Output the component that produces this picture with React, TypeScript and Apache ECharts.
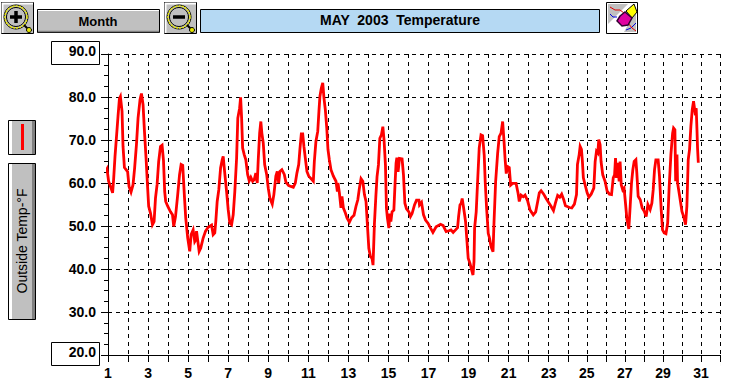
import React, { useEffect, useRef } from "react";
import * as echarts from "echarts";

const title = "MAY  2003  Temperature";
const rangeButton = "Month";
const seriesLabel = "Outside Temp-°F";
const yMin = 20;
const yMax = 90;
const lastDay = 32;
const dayTicks = Array.from({ length: lastDay }, (_, i) => i + 1);

const days = [
  0.9, 0.95, 1.03, 1.15, 1.23, 1.28, 1.35, 1.42, 1.5, 1.57, 1.62, 1.7, 1.75, 1.82, 1.92, 1.98, 2.05, 2.15, 2.25, 2.33, 2.42, 2.5, 2.6, 2.67, 2.75, 2.82, 2.9, 2.97, 3.03, 3.12, 3.22, 3.3, 3.37, 3.45, 3.53, 3.62, 3.7, 3.77, 3.83, 3.88, 3.98, 4.12, 4.22, 4.28, 4.37, 4.48, 4.57, 4.65, 4.73, 4.82, 4.88, 4.98, 5.08, 5.15,
  5.25, 5.33, 5.38, 5.42, 5.55, 5.63, 5.75, 5.87, 6.0, 6.17, 6.25, 6.33, 6.38, 6.45, 6.53, 6.62, 6.7, 6.75, 6.82, 6.92, 7.0, 7.08, 7.17, 7.25, 7.33, 7.42, 7.48, 7.57, 7.62, 7.67, 7.72, 7.8, 7.88, 7.97, 8.05, 8.13, 8.22, 8.3, 8.38, 8.45, 8.5, 8.57, 8.63, 8.68, 8.75, 8.82, 8.92, 9.0, 9.08, 9.2, 9.28, 9.38,
  9.45, 9.52, 9.58, 9.68, 9.8, 9.88, 10.02, 10.13, 10.25, 10.35, 10.43, 10.52, 10.58, 10.65, 10.72, 10.78, 10.85, 10.93, 11.02, 11.1, 11.25, 11.3, 11.38, 11.47, 11.53, 11.58, 11.65, 11.72, 11.78, 11.85, 11.92, 11.98, 12.05, 12.13, 12.25, 12.38, 12.45, 12.48, 12.55, 12.63, 12.68, 12.75, 12.85, 12.93, 13.05, 13.15, 13.28, 13.38, 13.47, 13.55, 13.63, 13.72, 13.8,
  13.88, 13.95, 14.02, 14.1, 14.18, 14.23, 14.3, 14.37, 14.43, 14.5, 14.57, 14.65, 14.72, 14.78, 14.85, 14.9, 14.95, 15.02, 15.07, 15.12, 15.18, 15.27, 15.33, 15.38, 15.42, 15.48, 15.55, 15.68, 15.75, 15.82, 15.9, 16.02, 16.1, 16.18, 16.3, 16.4, 16.52, 16.55, 16.65, 16.75, 16.85, 16.98, 17.1, 17.22, 17.38, 17.6, 17.73, 17.88, 18.02, 18.12,
  18.23, 18.35, 18.45, 18.5, 18.57, 18.63, 18.68, 18.73, 18.78, 18.85, 18.92, 18.98, 19.07, 19.15, 19.22, 19.27, 19.3, 19.38, 19.45, 19.53, 19.62, 19.7, 19.78, 19.83, 19.9, 19.98, 20.05, 20.12, 20.22, 20.27, 20.35, 20.45, 20.53, 20.62, 20.7, 20.77, 20.82, 20.88, 20.95, 21.03, 21.1, 21.2, 21.37, 21.47, 21.53, 21.62, 21.73, 21.82, 21.95, 22.07, 22.23, 22.35, 22.45,
  22.53, 22.62, 22.75, 22.87, 22.98, 23.12, 23.25, 23.35, 23.47, 23.58, 23.68, 23.79, 23.88, 24.09, 24.21, 24.35, 24.46, 24.51, 24.6, 24.65, 24.72, 24.77, 24.82, 24.91, 25.02, 25.11, 25.23, 25.37, 25.44, 25.51, 25.58, 25.63, 25.7, 25.75, 25.84, 25.96, 26.07, 26.19, 26.3, 26.39, 26.46, 26.51, 26.56, 26.63, 26.7, 26.75, 26.81, 26.89,
  26.96, 27.04, 27.11, 27.21, 27.28, 27.35, 27.42, 27.49, 27.58, 27.63, 27.7, 27.81, 27.91, 28.02, 28.12, 28.21, 28.33, 28.42, 28.49, 28.56, 28.63, 28.75, 28.82, 28.91, 28.98, 29.07, 29.16, 29.25, 29.33, 29.42, 29.51, 29.56, 29.63, 29.67, 29.74, 29.77, 29.88, 30.0, 30.09, 30.19, 30.26, 30.33, 30.4, 30.47, 30.54, 30.61, 30.68, 30.75, 30.79, 30.82, 30.86,
];

const temps = [
  62.9, 63.3, 60.4, 58.8, 57.7, 60.8, 66.2, 70.5, 75.5, 79.6, 80.1, 76.7, 68.5, 63.6, 63, 62.6, 59.2, 57.9, 59.6, 63.5, 68.9, 75.1, 79.4, 80.8, 78.2, 72, 65.8, 59.6, 54.6, 53, 50.3, 51, 56.5, 59.6, 65, 68.5, 68.8, 65.2, 58, 55.7, 54.6, 53.3, 52.6, 49.9, 52.2, 57.3, 61.9, 64.3, 64.1, 56.5, 51.9, 47.2, 44.1, 48,
  49.1, 46.4, 46.8, 48.8, 44.1, 44.9, 47.2, 48.8, 49.7, 50.2, 48, 48.4, 51, 55.7, 58.4, 63.5, 65.4, 66.2, 62.7, 58, 53.8, 50.7, 50.3, 52.6, 58, 65.8, 75.1, 77.4, 79.9, 75.1, 68.1, 66.6, 65.4, 62, 60.5, 61.3, 60.4, 60.8, 62.3, 60, 65.4, 71.6, 74.3, 71.6, 69.3, 64.3, 62, 58.8, 56.5, 55.1, 57.3, 61.6,
  62.7, 60, 62.7, 63.1, 62, 60.2, 59.4, 59.2, 59, 60, 62.3, 64.3, 67.8, 71.4, 71.4, 68.5, 65.8, 62.7, 61.6, 61.2, 60.4, 65, 69.7, 72, 76.7, 80.2, 82.1, 83.3, 79.8, 77, 72.8, 67.8, 65.4, 63.1, 61.6, 60.4, 58, 60, 57.7, 54.2, 56.9, 54.2, 53, 51.9, 50.9, 51.9, 52.5, 54.6, 56.1, 58.8, 61, 60.4, 57.3,
  55.7, 50.2, 44.8, 42.9, 42.5, 40.9, 50.6, 56.8, 61.5, 64.2, 70.4, 71.2, 73.1, 70, 64.2, 54.1, 51.8, 49.5, 52.9, 51, 53.3, 53.7, 59.9, 64.6, 65.9, 62.6, 65.7, 65.6, 61.9, 55.3, 54, 53.3, 52.2, 52.9, 54.9, 56, 56, 54.9, 55.5, 52.6, 51.4, 50.6, 49.5, 48.5, 49.8, 50.4, 50.1, 48.7, 48.9, 49.1,
  48.5, 49.1, 49.6, 52.2, 54.9, 55.3, 56.4, 54.9, 53.3, 51, 46.4, 42.5, 41.3, 39.8, 38.6, 41.7, 49.5, 53.3, 60.3, 68.1, 71.2, 71, 66.5, 60.3, 54.1, 48.3, 47.1, 45.2, 44, 51, 60.3, 66.9, 70.8, 71.6, 74.3, 69.6, 65.7, 62.2, 63.8, 63.6, 59.5, 59.9, 59.9, 57.6, 55.7, 57.2, 56.8, 57.2, 55.8, 53.7, 52.6, 53.3, 55.7,
  57.7, 58.2, 57.4, 56.4, 55.6, 54.6, 53.6, 55.3, 57.1, 56.7, 57.4, 56.1, 54.7, 54.3, 54.2, 55.1, 57.3, 64.3, 66.6, 68.5, 67.8, 65, 61.2, 59.6, 57.7, 56.7, 57.4, 58.8, 65, 67.4, 67, 70.1, 68.9, 65, 61.9, 60.4, 58.1, 57.4, 57.3, 61.2, 61.9, 65.8, 61.2, 64.7, 60.4, 65, 59.6, 58.4,
  58.8, 55, 51.5, 49.3, 54.6, 60, 63.1, 65, 65.4, 62.3, 56.9, 56.1, 54.2, 53.4, 52.2, 55, 53.8, 55.3, 58.4, 63.1, 65.4, 65.4, 61.6, 53.8, 49.1, 48.4, 48.2, 50.7, 59.2, 66.6, 71.6, 72.8, 72.4, 60.4, 66.6, 60, 56.9, 53.4, 52.2, 50.3, 54.6, 65.4, 67.8, 73.2, 77, 79, 76.7, 77.4, 72.4, 68.1, 64.7,
];

// The instrument's day axis is slightly compressed after the 23rd.
const compressFrom = 23;
const compressRatio = 0.95;
const toAxis = (d: number) => (d <= compressFrom ? d : compressFrom + (d - compressFrom) * compressRatio);
const toDay = (a: number) => (a <= compressFrom ? a : compressFrom + (a - compressFrom) / compressRatio);

const FONT = '"Liberation Sans", Arial, sans-serif';
const GREY = "#c0c0c0";
const DARK = "#808080";

const rect = (x: number, y: number, width: number, height: number, fill: string, stroke?: string, z = 1) => ({
  type: "rect",
  z,
  silent: true,
  shape: { x, y, width, height },
  style: { fill, stroke: stroke ?? "none", lineWidth: stroke ? 1 : 0 },
});
const line = (x1: number, y1: number, x2: number, y2: number, stroke: string, lineWidth = 1, z = 3) => ({
  type: "line",
  z,
  silent: true,
  shape: { x1, y1, x2, y2 },
  style: { stroke, lineWidth },
});
const txt = (x: number, y: number, text: string, font: string, extra: any = {}) => ({
  type: "text",
  z: 5,
  silent: true,
  x,
  y,
  ...extra,
  style: { text, font, fill: "#000", align: "center", verticalAlign: "middle" },
});
const raisedButton = (x: number, y: number, w: number, h: number) => [
  rect(x + 0.5, y + 0.5, w, h, GREY, "#000"),
  rect(x + 1, y + 1, 3, h - 1, "#fff", undefined, 2),
  rect(x + w - 3, y + 1, 3, h - 1, DARK, undefined, 2),
];
const magnifier = (x: number, y: number, minus: boolean) => {
  const cx = x + 15;
  const cy = y + 15;
  const marks: any[] = [
    rect(x + 0.5, y + 0.5, 32, 31, GREY, "#000"),
    line(x + 1, y + 1.5, x + 32, y + 1.5, "#fff", 2, 2),
    line(x + 1.5, y + 1, x + 1.5, y + 31, "#fff", 2, 2),
    { type: "circle", z: 2, silent: true, shape: { cx, cy, r: 12 }, style: { fill: GREY, stroke: "#000", lineWidth: 1 } },
    { type: "circle", z: 3, silent: true, shape: { cx, cy, r: 11 }, style: { fill: "none", stroke: "#e8e800", lineWidth: 1.5, lineDash: [2, 1] } },
    { type: "circle", z: 3, silent: true, shape: { cx, cy, r: 9.5 }, style: { fill: "none", stroke: "#000", lineWidth: 1 } },
    line(cx + 8, cy + 8, cx + 14, cy + 14, "#000", 2),
    { type: "circle", z: 3, silent: true, shape: { cx: cx + 13, cy: cy + 13, r: 2.5 }, style: { fill: "#e8e800", stroke: "#000", lineWidth: 1 } },
    line(cx - 6, cy, cx + 6, cy, "#000", 3.5),
  ];
  if (!minus) marks.push(line(cx, cy - 6, cx, cy + 6, "#000", 3.5));
  return marks;
};
const eraser = (x: number, y: number) => [
  rect(x + 0.5, y + 0.5, 31, 31, "#fff", "#000"),
  { type: "polygon", z: 2, silent: true, shape: { points: [[x + 2, y + 2], [x + 22, y + 2], [x + 2, y + 22]] }, style: { fill: GREY } },
  { type: "polygon", z: 2, silent: true, shape: { points: [[x + 30, y + 8], [x + 30, y + 30], [x + 18, y + 30]] }, style: { fill: GREY } },
  { type: "polyline", z: 3, silent: true, shape: { points: [[x + 4, y + 5], [x + 9, y + 8], [x + 14, y + 8], [x + 18, y + 11]] }, style: { stroke: "#e00000", lineWidth: 1, fill: "none" } },
  { type: "polyline", z: 3, silent: true, shape: { points: [[x + 4, y + 12], [x + 7, y + 15], [x + 11, y + 15]] }, style: { stroke: "#0000e0", lineWidth: 1, fill: "none" } },
  { type: "polyline", z: 3, silent: true, shape: { points: [[x + 20, y + 28], [x + 25, y + 26], [x + 30, y + 21]] }, style: { stroke: "#0000e0", lineWidth: 1, fill: "none" } },
  { type: "polyline", z: 3, silent: true, shape: { points: [[x + 22, y + 21], [x + 26, y + 26], [x + 30, y + 29]] }, style: { stroke: "#e00000", lineWidth: 1, fill: "none" } },
  { type: "polygon", z: 3, silent: true, shape: { points: [[x + 20, y + 9], [x + 28, y + 2], [x + 31, y + 10], [x + 26, y + 16]] }, style: { fill: "#ffff00", stroke: "#000", lineWidth: 1 } },
  { type: "polygon", z: 4, silent: true, shape: { points: [[x + 14, y + 14], [x + 19, y + 10], [x + 26, y + 16], [x + 22, y + 23], [x + 16, y + 24], [x + 11, y + 19]] }, style: { fill: "#e000a0", stroke: "#300030", lineWidth: 1.5 } },
];

export default function App() {
  const ref = useRef<HTMLDivElement>(null);
  useEffect(() => {
    document.body.style.margin = "0";
    document.body.style.background = "#fff";
    const chart = echarts.init(ref.current!, null, { renderer: "svg" });
    const tickAxis = dayTicks.map(toAxis);
    chart.setOption({
      animation: false,
      backgroundColor: "#fff",
      grid: { left: 108, right: 18, top: 54, bottom: 29, containLabel: false },
      xAxis: {
        type: "value",
        min: 1,
        max: toAxis(lastDay),
        axisLine: { show: true, onZero: false, lineStyle: { color: "#000", width: 1 } },
        axisTick: { show: true, length: 7, customValues: tickAxis, lineStyle: { color: "#000", width: 1 } },
        splitLine: { show: true, lineStyle: { color: "#000", width: 1, type: [4, 4] } },
        axisLabel: {
          customValues: dayTicks.filter((d) => d % 2 === 1).map(toAxis),
          formatter: (v: number) => String(Math.round(toDay(v))),
          color: "#000",
          fontFamily: FONT,
          fontWeight: "bold",
          fontSize: 14,
          margin: 11,
          showMinLabel: true,
          showMaxLabel: true,
          hideOverlap: false,
        },
      },
      yAxis: {
        type: "value",
        min: yMin,
        max: yMax,
        interval: 10,
        axisLine: { show: true, lineStyle: { color: "#000", width: 1 } },
        axisTick: { show: true, length: 7, lineStyle: { color: "#000", width: 1 } },
        minorTick: { show: true, splitNumber: 4, length: 4, lineStyle: { color: "#000", width: 1 } },
        splitLine: { show: true, lineStyle: { color: "#000", width: 1, type: [4, 4] } },
        axisLabel: {
          formatter: (v: number) => (v === yMin || v === yMax ? `{box|${v.toFixed(1)}}` : v.toFixed(1)),
          rich: { box: { padding: [0, 0, 6, 0], fontFamily: FONT, fontWeight: "bold", fontSize: 14, color: "#000" } },
          color: "#000",
          fontFamily: FONT,
          fontWeight: "bold",
          fontSize: 14,
          margin: 12,
        },
      },
      series: [
        {
          type: "line",
          data: days.map((d, i) => [toAxis(d), temps[i]]),
          showSymbol: false,
          symbol: "none",
          clip: false,
          z: 10,
          lineStyle: { color: "#ff0000", width: 2.8, join: "miter" },
        },
      ],
      graphic: {
        elements: [
          ...magnifier(1, 2, false),
          rect(37.5, 9.5, 122, 23, GREY, "#000"),
          line(38, 10.5, 159, 10.5, "#fff", 1, 2),
          line(38, 31.5, 159, 31.5, DARK, 1.5, 2),
          txt(98, 21, rangeButton, `bold 13px ${FONT}`),
          ...magnifier(164, 2, true),
          rect(200.5, 9.5, 399, 23, "#b5d9f3", "#000"),
          txt(400, 19.5, title, `bold 14px ${FONT}`),
          ...eraser(606, 2),
          ...raisedButton(8, 120, 27, 34),
          rect(21, 124, 3, 26, "#ff0000", undefined, 3),
          ...raisedButton(8, 163, 27, 156),
          txt(22, 241, seriesLabel, `14px ${FONT}`, { rotation: Math.PI / 2 }),
          rect(51.5, 41.5, 48, 23, "#fff", "#000", 0),
          rect(51.5, 342.5, 48, 23, "#fff", "#000", 0),
        ],
      },
    });
    return () => chart.dispose();
  }, []);
  return <div ref={ref} style={{ position: "absolute", left: 0, top: 0, width: 738, height: 384 }} />;
}
